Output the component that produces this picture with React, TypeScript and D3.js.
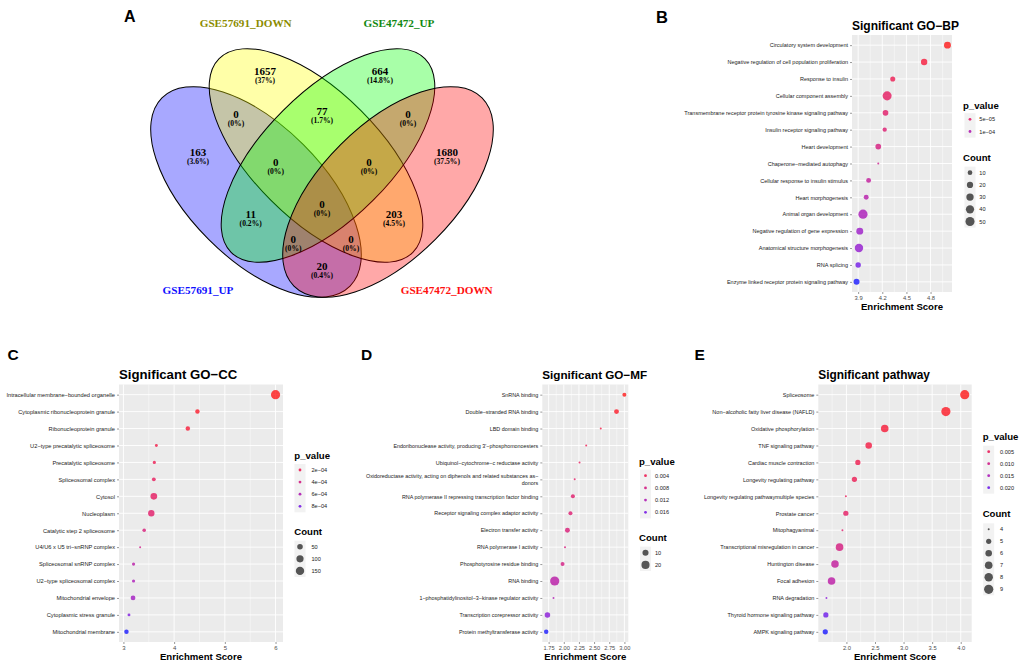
import React, { useEffect, useRef } from 'react';
import * as d3 from 'd3';

// ---------- Panel A : four-set Venn ----------
const vennSets = ['GSE57691_UP', 'GSE57691_DOWN', 'GSE47472_UP', 'GSE47472_DOWN'];
const vennRegions = ['B', 'Y', 'G', 'R', 'BY', 'YG', 'GR', 'BYG', 'YGR', 'BYGR', 'BG', 'YR', 'BGR', 'BYR', 'BR'];
const vennCounts = [163, 1657, 664, 1680, 0, 77, 0, 0, 0, 0, 11, 203, 0, 0, 20];

// ---------- Panel B : GO-BP ----------
const bpTerms = [
  'Circulatory system development',
  'Negative regulation of cell population proliferation',
  'Response to insulin',
  'Cellular component assembly',
  'Transmembrane receptor protein tyrosine kinase signaling pathway',
  'Insulin receptor signaling pathway',
  'Heart development',
  'Chaperone-mediated autophagy',
  'Cellular response to insulin stimulus',
  'Heart morphogenesis',
  'Animal organ development',
  'Negative regulation of gene expression',
  'Anatomical structure morphogenesis',
  'RNA splicing',
  'Enzyme linked receptor protein signaling pathway',
];
const bpScore = [5.01, 4.72, 4.33, 4.26, 4.24, 4.23, 4.15, 4.15, 4.03, 4.0, 3.96, 3.92, 3.91, 3.9, 3.88];
const bpPvalue = [1.0e-5, 2.2e-5, 3.5e-5, 4.5e-5, 5.0e-5, 5.5e-5, 6.5e-5, 7.5e-5, 8.5e-5, 9.5e-5, 1.05e-4, 1.15e-4, 1.2e-4, 1.35e-4, 1.5e-4];
const bpCount = [26, 21, 12, 50, 16, 8, 16, 3, 11, 11, 52, 26, 42, 14, 18];

// ---------- Panel C : GO-CC ----------
const ccTerms = [
  'Intracellular membrane-bounded organelle',
  'Cytoplasmic ribonucleoprotein granule',
  'Ribonucleoprotein granule',
  'U2-type precatalytic spliceosome',
  'Precatalytic spliceosome',
  'Spliceosomal complex',
  'Cytosol',
  'Nucleoplasm',
  'Catalytic step 2 spliceosome',
  'U4/U6 x U5 tri-snRNP complex',
  'Spliceosomal snRNP complex',
  'U2-type spliceosomal complex',
  'Mitochondrial envelope',
  'Cytoplasmic stress granule',
  'Mitochondrial membrane',
];
const ccScore = [6.0, 4.46, 4.27, 3.65, 3.61, 3.6, 3.6, 3.55, 3.41, 3.33, 3.2, 3.2, 3.19, 3.11, 3.06];
const ccPvalue = [5e-5, 8e-5, 1.1e-4, 1.6e-4, 2.0e-4, 2.4e-4, 2.6e-4, 2.9e-4, 3.6e-4, 4.3e-4, 5.5e-4, 6.2e-4, 6.6e-4, 7.8e-4, 9.0e-4];
const ccCount = [190, 26, 26, 7, 9, 16, 82, 73, 13, 4, 9, 9, 32, 7, 26];

// ---------- Panel D : GO-MF ----------
const mfTerms = [
  'SnRNA binding',
  'Double-stranded RNA binding',
  'LBD domain binding',
  "Endoribonuclease activity, producing 3'-phosphomonoesters",
  'Ubiquinol-cytochrome-c reductase activity',
  'Oxidoreductase activity, acting on diphenols and related substances as-\ndonors',
  'RNA polymerase II repressing transcription factor binding',
  'Receptor signaling complex adaptor activity',
  'Electron transfer activity',
  'RNA polymerase I activity',
  'Phosphotyrosine residue binding',
  'RNA binding',
  '1-phosphatidylinositol-3-kinase regulator activity',
  'Transcription corepressor activity',
  'Protein methyltransferase activity',
];
const mfScore = [3.0, 2.87, 2.61, 2.37, 2.26, 2.18, 2.15, 2.11, 2.06, 2.02, 1.98, 1.85, 1.83, 1.73, 1.71];
const mfPvalue = [0.001, 0.0015, 0.003, 0.004, 0.005, 0.0055, 0.006, 0.0065, 0.007, 0.0075, 0.008, 0.011, 0.012, 0.015, 0.018];
const mfCount = [4, 6, 2, 2, 2, 2, 4, 4, 6, 2, 4, 27, 2, 8, 5];

// ---------- Panel E : KEGG pathway ----------
const kgTerms = [
  'Spliceosome',
  'Non-alcoholic fatty liver disease (NAFLD)',
  'Oxidative phosphorylation',
  'TNF signaling pathway',
  'Cardiac muscle contraction',
  'Longevity regulating pathway',
  'Longevity regulating pathwaymultiple species',
  'Prostate cancer',
  'Mitophagyanimal',
  'Transcriptional misregulation in cancer',
  'Huntington disease',
  'Focal adhesion',
  'RNA degradation',
  'Thyroid hormone signaling pathway',
  'AMPK signaling pathway',
];
const kgScore = [4.07, 3.74, 2.67, 2.39, 2.2, 2.14, 1.99, 1.99, 1.93, 1.88, 1.8, 1.74, 1.65, 1.64, 1.63];
const kgPvalue = [0.0005, 0.001, 0.002, 0.003, 0.004, 0.0045, 0.005, 0.006, 0.007, 0.009, 0.012, 0.013, 0.018, 0.02, 0.022];
const kgCount = [9, 9, 7, 6, 5, 5, 4, 5, 4, 7, 7, 7, 4, 5, 5];

// tick / legend breaks
const bpTicks = [3.9, 4.2, 4.5, 4.8];
const ccTicks = [3, 4, 5, 6];
const mfTicks = [1.75, 2.0, 2.25, 2.5, 2.75, 3.0];
const kgTicks = [2.0, 2.5, 3.0, 3.5, 4.0];
const bpPBreaks = [5e-5, 1e-4];
const ccPBreaks = [2e-4, 4e-4, 6e-4, 8e-4];
const mfPBreaks = [0.004, 0.008, 0.012, 0.016];
const kgPBreaks = [0.005, 0.01, 0.015, 0.02];
const bpCountBreaks = [10, 20, 30, 40, 50];
const ccCountBreaks = [50, 100, 150];
const mfCountBreaks = [10, 20];
const kgCountBreaks = [4, 5, 6, 7, 8, 9];

const SANS = '"Liberation Sans", Arial, sans-serif';
const SERIF = '"Liberation Serif", "Times New Roman", serif';
const R_MIN = 1;
const R_MAX = 4.6;
const minus = (s: string) => s.replace(/-/g, '\u2212');

const sci = (v: number) => {
  const [m, e] = v.toExponential(0).split('e');
  const n = +e;
  return `${m}e${n < 0 ? '\u2212' : '+'}${String(Math.abs(n)).padStart(2, '0')}`;
};

// layout of the Venn (pixels)
const vennEllipses = [
  { cx: 256, cy: 192, rx: 133, ry: 67, rot: 45, fill: '#0000FF' },
  { cx: 316, cy: 155.5, rx: 137, ry: 63.6, rot: 45, fill: '#FFFF00' },
  { cx: 328, cy: 155.5, rx: 137, ry: 63.6, rot: -45, fill: '#00FF00' },
  { cx: 388, cy: 192, rx: 133, ry: 67, rot: -45, fill: '#FF0000' },
];
const vennLabelPos: Record<string, [number, number]> = {
  B: [198, 152], Y: [265, 71], G: [380, 71], R: [447, 152],
  BY: [236, 114], YG: [322, 111], GR: [408, 114],
  BYG: [275.7, 162], YGR: [369, 162], BYGR: [322, 204],
  BG: [250.7, 214], YR: [394, 214], BGR: [293.3, 239], BYR: [351, 239], BR: [322, 266],
};
const vennSetLabels = [
  { x: 198, y: 294, color: '#1010FF' },
  { x: 245.7, y: 26.5, color: '#8C8C00' },
  { x: 399, y: 26.5, color: '#118811' },
  { x: 446.7, y: 294, color: '#FF1010' },
];

type Sel = d3.Selection<SVGSVGElement, unknown, null, undefined>;

function drawVenn(svg: Sel) {
  const g = svg.append('g');
  vennEllipses.forEach(e => {
    g.append('ellipse')
      .attr('transform', `translate(${e.cx},${e.cy}) rotate(${e.rot})`)
      .attr('rx', e.rx)
      .attr('ry', e.ry)
      .attr('fill', e.fill)
      .attr('fill-opacity', 0.34)
      .attr('stroke', '#000')
      .attr('stroke-width', 1);
  });

  const total = d3.sum(vennCounts);
  vennRegions.forEach((key, i) => {
    const [x, y] = vennLabelPos[key];
    const c = vennCounts[i];
    const pct = +((c / total) * 100).toFixed(1);
    g.append('text')
      .attr('x', x).attr('y', y + 4)
      .attr('text-anchor', 'middle')
      .attr('font-family', SERIF).attr('font-weight', 'bold').attr('font-size', 11)
      .text(`${c}`);
    g.append('text')
      .attr('x', x).attr('y', y + 11.5)
      .attr('text-anchor', 'middle')
      .attr('font-family', SERIF).attr('font-weight', 'bold').attr('font-size', 7.6)
      .text(`(${pct}%)`);
  });

  vennSets.forEach((name, i) => {
    const l = vennSetLabels[i];
    g.append('text')
      .attr('x', l.x).attr('y', l.y)
      .attr('text-anchor', 'middle')
      .attr('font-family', SERIF).attr('font-weight', 'bold').attr('font-size', 11.2)
      .attr('fill', l.color)
      .text(name);
  });
}

interface PanelCfg {
  title: string;
  titleSize: number;
  x0: number; x1: number; y0: number; y1: number;
  labelSize: number;
  ticks: number[];
  tickFmt: string;
  pBreaks: number[];
  pFmt: (v: number) => string;
  countBreaks: number[];
  legend: { x: number; keyX: number; labelX: number; pTitleY: number; pRow0: number; cTitleY: number; cRow0: number; step: number };
  terms: string[]; score: number[]; pvalue: number[]; count: number[];
}

const panels: PanelCfg[] = [
  {
    title: 'Significant GO-BP', titleSize: 12,
    x0: 852, x1: 952, y0: 35, y1: 292, labelSize: 5.5,
    ticks: bpTicks, tickFmt: '.1f', pBreaks: bpPBreaks, pFmt: sci, countBreaks: bpCountBreaks,
    legend: { x: 963, keyX: 970, labelX: 979.3, pTitleY: 108.5, pRow0: 119.3, cTitleY: 161, cRow0: 172.7, step: 12.2 },
    terms: bpTerms, score: bpScore, pvalue: bpPvalue, count: bpCount,
  },
  {
    title: 'Significant GO-CC', titleSize: 13.2,
    x0: 119, x1: 283, y0: 384.5, y1: 642, labelSize: 5.7,
    ticks: ccTicks, tickFmt: 'd', pBreaks: ccPBreaks, pFmt: sci, countBreaks: ccCountBreaks,
    legend: { x: 294.3, keyX: 300, labelX: 311.5, pTitleY: 458.5, pRow0: 470, cTitleY: 535, cRow0: 546.7, step: 12.1 },
    terms: ccTerms, score: ccScore, pvalue: ccPvalue, count: ccCount,
  },
  {
    title: 'Significant GO-MF', titleSize: 11.7,
    x0: 542.3, x1: 628.3, y0: 384.5, y1: 642, labelSize: 5.4,
    ticks: mfTicks, tickFmt: '.2f', pBreaks: mfPBreaks, pFmt: d3.format('.3f'), countBreaks: mfCountBreaks,
    legend: { x: 639, keyX: 645.5, labelX: 655, pTitleY: 464.5, pRow0: 475.7, cTitleY: 541, cRow0: 552.7, step: 12.2 },
    terms: mfTerms, score: mfScore, pvalue: mfPvalue, count: mfCount,
  },
  {
    title: 'Significant pathway', titleSize: 11.9,
    x0: 818.3, x1: 971.7, y0: 384.5, y1: 642, labelSize: 5.5,
    ticks: kgTicks, tickFmt: '.1f', pBreaks: kgPBreaks, pFmt: d3.format('.3f'), countBreaks: kgCountBreaks,
    legend: { x: 982.7, keyX: 988.7, labelX: 1000, pTitleY: 440, pRow0: 451.7, cTitleY: 517, cRow0: 529.3, step: 12 },
    terms: kgTerms, score: kgScore, pvalue: kgPvalue, count: kgCount,
  },
];

function drawDotPanel(svg: Sel, cfg: PanelCfg) {
  const g = svg.append('g');
  const [lo, hi] = d3.extent(cfg.score) as [number, number];
  const pad = (hi - lo) * 0.05;
  const dom: [number, number] = [lo - pad, hi + pad];
  const x = d3.scaleLinear().domain(dom).range([cfg.x0, cfg.x1]);
  const y = d3.scalePoint<string>().domain(cfg.terms).range([cfg.y0, cfg.y1]).padding(0.6);
  const color = d3.scaleLinear<string>()
    .domain(d3.extent(cfg.pvalue) as [number, number])
    .range(['#FF0000', '#0000FF'])
    .interpolate(d3.interpolateLab)
    .clamp(true);
  const norm = d3.scaleLinear().domain(d3.extent(cfg.count) as [number, number]).range([0, 1]).clamp(true);
  const size = (c: number) => R_MIN + (R_MAX - R_MIN) * Math.sqrt(norm(c));

  // panel background + grid
  g.append('rect')
    .attr('x', cfg.x0).attr('y', cfg.y0)
    .attr('width', cfg.x1 - cfg.x0).attr('height', cfg.y1 - cfg.y0)
    .attr('fill', '#EBEBEB');

  const step = cfg.ticks[1] - cfg.ticks[0];
  const minors = [cfg.ticks[0] - step / 2, ...cfg.ticks.map(t => t + step / 2)]
    .filter(v => v > dom[0] && v < dom[1]);
  g.selectAll('line.minor').data(minors).join('line')
    .attr('x1', d => x(d)).attr('x2', d => x(d))
    .attr('y1', cfg.y0).attr('y2', cfg.y1)
    .attr('stroke', '#fff').attr('stroke-width', 0.45);
  g.selectAll('line.majorx').data(cfg.ticks).join('line')
    .attr('x1', d => x(d)).attr('x2', d => x(d))
    .attr('y1', cfg.y0).attr('y2', cfg.y1)
    .attr('stroke', '#fff').attr('stroke-width', 0.9);
  g.selectAll('line.majory').data(cfg.terms).join('line')
    .attr('x1', cfg.x0).attr('x2', cfg.x1)
    .attr('y1', d => y(d)!).attr('y2', d => y(d)!)
    .attr('stroke', '#fff').attr('stroke-width', 0.9);

  // points
  cfg.terms.forEach((t, i) => {
    g.append('circle')
      .attr('cx', x(cfg.score[i]))
      .attr('cy', y(t)!)
      .attr('r', size(cfg.count[i]))
      .attr('fill', color(cfg.pvalue[i]))
      .attr('fill-opacity', 0.72);
  });

  // axes
  const xAxis = g.append('g')
    .attr('transform', `translate(0,${cfg.y1})`)
    .call(d3.axisBottom(x).tickValues(cfg.ticks).tickSize(2).tickPadding(1.5).tickFormat(d3.format(cfg.tickFmt)));
  xAxis.select('.domain').remove();
  xAxis.selectAll('line').attr('stroke', '#333').attr('stroke-width', 0.5);
  xAxis.selectAll('text')
    .attr('fill', '#4D4D4D').attr('font-size', cfg.labelSize + 0.3).attr('font-family', SANS);

  const yAxis = g.append('g')
    .attr('transform', `translate(${cfg.x0},0)`)
    .call(d3.axisLeft(y).tickSize(2).tickPadding(2));
  yAxis.select('.domain').remove();
  yAxis.selectAll('line').attr('stroke', '#333').attr('stroke-width', 0.5);
  yAxis.selectAll<SVGTextElement, string>('text')
    .attr('fill', '#1A1A1A').attr('font-size', cfg.labelSize).attr('font-family', SANS)
    .each(function (d) {
      const lines = minus(d).split('\n');
      const t = d3.select(this).text(null);
      const lh = cfg.labelSize * 1.25;
      lines.forEach((ln, k) => {
        t.append('tspan')
          .attr('x', -4)
          .attr('dy', k === 0 ? `${0.32 - ((lines.length - 1) * 1.25) / 2}em` : `${lh}px`)
          .text(ln);
      });
    })
    .attr('dy', null);

  // title and axis title
  g.append('text')
    .attr('x', cfg.x0).attr('y', cfg.y0 - 5.5)
    .attr('font-family', SANS).attr('font-weight', 'bold').attr('font-size', cfg.titleSize)
    .text(minus(cfg.title));
  g.append('text')
    .attr('x', (cfg.x0 + cfg.x1) / 2).attr('y', cfg.y1 + 18)
    .attr('text-anchor', 'middle')
    .attr('font-family', SANS).attr('font-weight', 'bold').attr('font-size', 9.6)
    .text('Enrichment Score');

  // legends
  const L = cfg.legend;
  g.append('text')
    .attr('x', L.x).attr('y', L.pTitleY)
    .attr('font-family', SANS).attr('font-weight', 'bold').attr('font-size', 9.6)
    .text('p_value');
  g.append('rect')
    .attr('x', L.keyX - 5.5).attr('y', L.pRow0 - L.step / 2)
    .attr('width', 11).attr('height', L.step * cfg.pBreaks.length)
    .attr('fill', '#F2F2F2');
  cfg.pBreaks.forEach((b, i) => {
    const cy = L.pRow0 + i * L.step;
    g.append('circle').attr('cx', L.keyX).attr('cy', cy).attr('r', 1.4)
      .attr('fill', color(b)).attr('fill-opacity', 0.8);
    g.append('text').attr('x', L.labelX).attr('y', cy + 2)
      .attr('font-family', SANS).attr('font-size', 5.6).attr('fill', '#1A1A1A')
      .text(cfg.pFmt(b));
  });

  g.append('text')
    .attr('x', L.x).attr('y', L.cTitleY)
    .attr('font-family', SANS).attr('font-weight', 'bold').attr('font-size', 9.6)
    .text('Count');
  g.append('rect')
    .attr('x', L.keyX - 5.5).attr('y', L.cRow0 - L.step / 2)
    .attr('width', 11).attr('height', L.step * cfg.countBreaks.length)
    .attr('fill', '#F2F2F2');
  cfg.countBreaks.forEach((b, i) => {
    const cy = L.cRow0 + i * L.step;
    g.append('circle').attr('cx', L.keyX).attr('cy', cy).attr('r', size(b))
      .attr('fill', '#000').attr('fill-opacity', 0.65);
    g.append('text').attr('x', L.labelX).attr('y', cy + 2)
      .attr('font-family', SANS).attr('font-size', 5.6).attr('fill', '#1A1A1A')
      .text(`${b}`);
  });
}

const panelLetters = [
  { t: 'A', x: 124, y: 22, s: 16 },
  { t: 'B', x: 656, y: 22.5, s: 16.5 },
  { t: 'C', x: 7.5, y: 360, s: 15.5 },
  { t: 'D', x: 361, y: 360, s: 15.5 },
  { t: 'E', x: 694.5, y: 360, s: 15.5 },
];

const App: React.FC = () => {
  const svgRef = useRef<SVGSVGElement>(null);

  useEffect(() => {
    if (!svgRef.current) return;
    const svg = d3.select(svgRef.current);
    svg.selectAll('*').remove();

    drawVenn(svg);
    panels.forEach(p => drawDotPanel(svg, p));

    panelLetters.forEach(l => {
      svg.append('text')
        .attr('x', l.x).attr('y', l.y)
        .attr('font-family', SANS).attr('font-weight', 'bold').attr('font-size', l.s)
        .text(l.t);
    });
  }, []);

  return (
    <svg
      ref={svgRef}
      width={1021}
      height={663}
      style={{ position: 'absolute', left: 0, top: 0, background: '#fff' }}
    />
  );
};

export default App;
